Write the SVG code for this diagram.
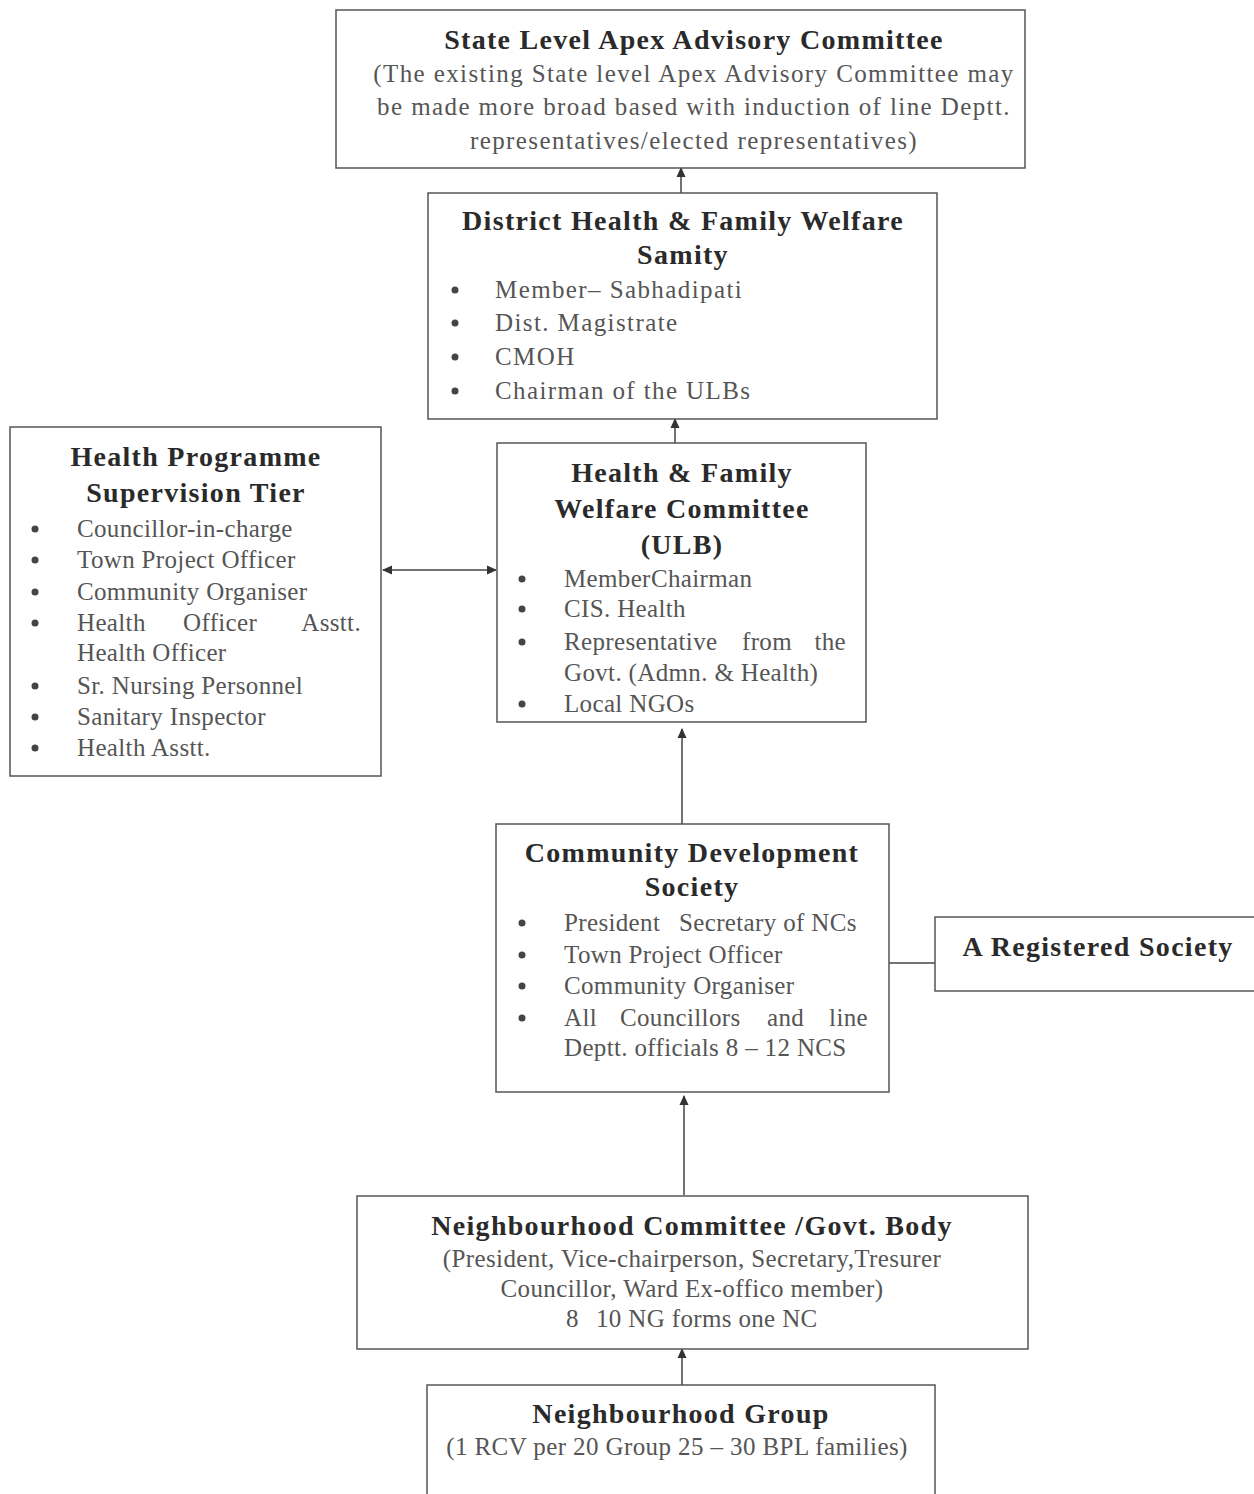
<svg xmlns="http://www.w3.org/2000/svg" width="1254" height="1494" viewBox="0 0 1254 1494">
<defs>
<marker id="ah" viewBox="0 0 10 10" refX="9" refY="5" markerWidth="10" markerHeight="10" orient="auto-start-reverse" markerUnits="userSpaceOnUse">
<path d="M0,0.5 L10,5 L0,9.5 z" fill="#333"/>
</marker>
<style>
.box{fill:#fff;stroke:#555;stroke-width:1.5}
.t{font-family:"Liberation Serif",serif;font-weight:bold;font-size:28px;letter-spacing:1.3px;fill:#2a2a2a;text-anchor:middle}
.b{font-family:"Liberation Serif",serif;font-size:25px;letter-spacing:1.4px;fill:#555}
.c{font-family:"Liberation Serif",serif;font-size:25px;letter-spacing:1.4px;fill:#555;text-anchor:middle}
.s{font-family:"Liberation Serif",serif;font-size:25px;letter-spacing:0.35px;fill:#555}
.sc{font-family:"Liberation Serif",serif;font-size:25px;letter-spacing:0.4px;fill:#555;text-anchor:middle}
.dot{fill:#444}
.con{stroke:#444;stroke-width:1.5;fill:none}
</style>
</defs>
<rect width="1254" height="1494" fill="#fff"/>
<g id="connectors">
<line class="con" x1="681" y1="193" x2="681" y2="168" marker-end="url(#ah)"/>
<line class="con" x1="675" y1="443" x2="675" y2="419" marker-end="url(#ah)"/>
<line class="con" x1="383" y1="570" x2="496" y2="570" marker-start="url(#ah)" marker-end="url(#ah)"/>
<line class="con" x1="682" y1="824" x2="682" y2="729" marker-end="url(#ah)"/>
<line class="con" x1="889" y1="963" x2="935" y2="963"/>
<line class="con" x1="684" y1="1195" x2="684" y2="1096" marker-end="url(#ah)"/>
<line class="con" x1="682" y1="1385" x2="682" y2="1349" marker-end="url(#ah)"/>
</g>
<g id="state">
<rect class="box" x="336" y="10" width="689" height="158"/>
<text class="t" x="694" y="49">State Level Apex Advisory Committee</text>
<text class="c" x="694" y="82">(The existing State level Apex Advisory Committee may</text>
<text class="c" x="694" y="115">be made more broad based with induction of line Deptt.</text>
<text class="c" x="694" y="149">representatives/elected representatives)</text>
</g>
<g id="district">
<rect class="box" x="428" y="193" width="509" height="226"/>
<text class="t" x="683" y="230">District Health &amp; Family Welfare</text>
<text class="t" x="683" y="264">Samity</text>
<circle class="dot" cx="455" cy="290" r="3.5"/><text class="b" x="495" y="298">Member– Sabhadipati</text>
<circle class="dot" cx="455" cy="323" r="3.5"/><text class="b" x="495" y="331">Dist. Magistrate</text>
<circle class="dot" cx="455" cy="357" r="3.5"/><text class="b" x="495" y="365">CMOH</text>
<circle class="dot" cx="455" cy="391" r="3.5"/><text class="b" x="495" y="399">Chairman of the ULBs</text>
</g>
<g id="supervision">
<rect class="box" x="10" y="427" width="371" height="349"/>
<text class="t" x="196" y="466">Health Programme</text>
<text class="t" x="196" y="502">Supervision Tier</text>
<circle class="dot" cx="35" cy="529" r="3.5"/><text class="s" x="77" y="537">Councillor-in-charge</text>
<circle class="dot" cx="35" cy="560" r="3.5"/><text class="s" x="77" y="568">Town Project Officer</text>
<circle class="dot" cx="35" cy="592" r="3.5"/><text class="s" x="77" y="600">Community Organiser</text>
<circle class="dot" cx="35" cy="623" r="3.5"/><text class="s" y="631"><tspan x="77">Health </tspan><tspan x="183">Officer </tspan><tspan x="361" text-anchor="end">Asstt.</tspan></text>
<text class="s" x="77" y="661">Health Officer</text>
<circle class="dot" cx="35" cy="686" r="3.5"/><text class="s" x="77" y="694">Sr. Nursing Personnel</text>
<circle class="dot" cx="35" cy="717" r="3.5"/><text class="s" x="77" y="725">Sanitary Inspector</text>
<circle class="dot" cx="35" cy="748" r="3.5"/><text class="s" x="77" y="756">Health Asstt.</text>
</g>
<g id="ulb">
<rect class="box" x="497" y="443" width="369" height="279"/>
<text class="t" x="682" y="482">Health &amp; Family</text>
<text class="t" x="682" y="518">Welfare Committee</text>
<text class="t" x="682" y="554">(ULB)</text>
<circle class="dot" cx="522" cy="579" r="3.5"/><text class="s" y="587"><tspan x="564">Member </tspan><tspan x="651">Chairman</tspan></text>
<circle class="dot" cx="522" cy="609" r="3.5"/><text class="s" x="564" y="617">CIS. Health</text>
<circle class="dot" cx="522" cy="642" r="3.5"/><text class="s" y="650"><tspan x="564">Representative </tspan><tspan x="742">from </tspan><tspan x="846" text-anchor="end">the</tspan></text>
<text class="s" x="564" y="681">Govt. (Admn. &amp; Health)</text>
<circle class="dot" cx="522" cy="704" r="3.5"/><text class="s" x="564" y="712">Local NGOs</text>
</g>
<g id="cds">
<rect class="box" x="496" y="824" width="393" height="268"/>
<text class="t" x="692" y="862">Community Development</text>
<text class="t" x="692" y="896">Society</text>
<circle class="dot" cx="522" cy="923" r="3.5"/><text class="s" y="931"><tspan x="564">President </tspan><tspan x="679">Secretary of NCs</tspan></text>
<circle class="dot" cx="522" cy="955" r="3.5"/><text class="s" x="564" y="963">Town Project Officer</text>
<circle class="dot" cx="522" cy="986" r="3.5"/><text class="s" x="564" y="994">Community Organiser</text>
<circle class="dot" cx="522" cy="1018" r="3.5"/><text class="s" y="1026"><tspan x="564">All </tspan><tspan x="620">Councillors </tspan><tspan x="767">and </tspan><tspan x="868" text-anchor="end">line</tspan></text>
<text class="s" x="564" y="1056">Deptt. officials 8 – 12 NCS</text>
</g>
<g id="registered">
<rect class="box" x="935" y="917" width="325" height="74"/>
<text class="t" x="1098" y="956">A Registered Society</text>
</g>
<g id="nc">
<rect class="box" x="357" y="1196" width="671" height="153"/>
<text class="t" x="692" y="1235">Neighbourhood Committee /Govt. Body</text>
<text class="sc" x="692" y="1267">(President, Vice-chairperson, Secretary,Tresurer</text>
<text class="sc" x="692" y="1297">Councillor, Ward  Ex-offico member)</text>
<text class="s" y="1327"><tspan x="566">8 </tspan><tspan x="596">10 NG forms one NC</tspan></text>
</g>
<g id="ng">
<rect class="box" x="427" y="1385" width="508" height="130"/>
<text class="t" x="681" y="1423">Neighbourhood Group</text>
<text class="sc" x="677" y="1455">(1 RCV per 20 Group 25 – 30 BPL families)</text>
</g>
</svg>
